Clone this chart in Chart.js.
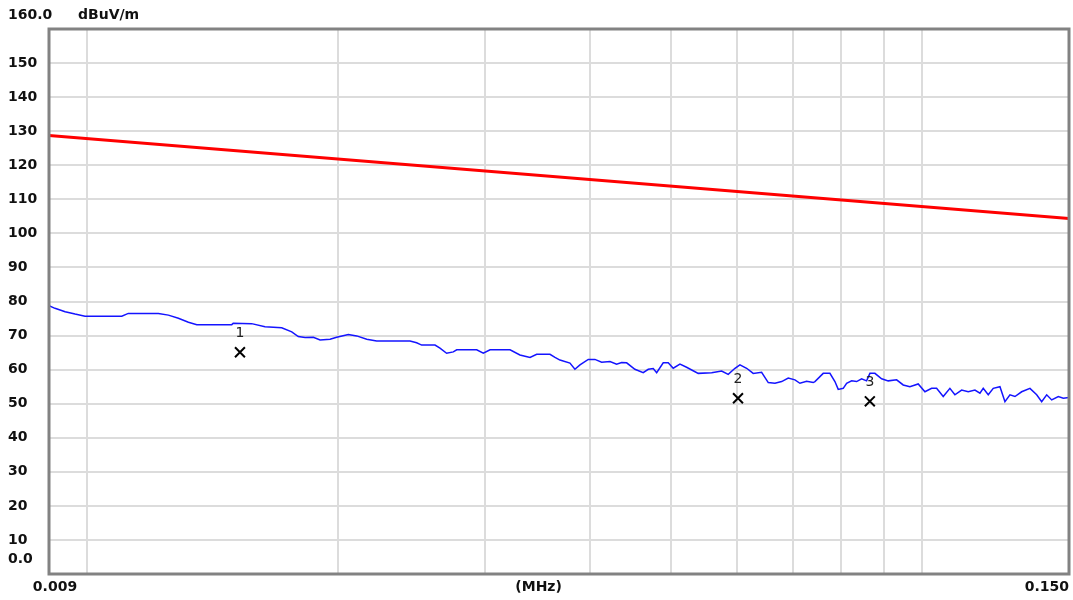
<!DOCTYPE html>
<html lang="en">
<head>
  <meta charset="UTF-8">
  <title>Radiated emission 9 kHz - 150 kHz</title>
  <script src="https://cdn.jsdelivr.net/npm/chart.js"></script>
  <style>
    body {
      margin: 0;
      background-color: #ffffff;
    }
    canvas {
      display: block;
    }
  </style>
</head>
<body>
  <canvas id="emiChart" width="1073" height="600"></canvas>

  <script>
    const traceFreq = [
      0.00900, 0.00915, 0.00941, 0.00967, 0.00994, 0.01100, 0.01120, 0.01217, 0.01251, 0.01286,
      0.01322, 0.01353, 0.01490, 0.01496, 0.01574, 0.01633, 0.01710, 0.01758, 0.01790, 0.01824,
      0.01866, 0.01901, 0.01954, 0.01990, 0.02055, 0.02103, 0.02162, 0.02222, 0.02436, 0.02481,
      0.02516, 0.02610, 0.02646, 0.02695, 0.02745, 0.02771, 0.02928, 0.02982, 0.03038, 0.03210,
      0.03299, 0.03392, 0.03455, 0.03584, 0.03634, 0.03684, 0.03787, 0.03839, 0.03893, 0.03983,
      0.04057, 0.04133, 0.04229, 0.04307, 0.04367, 0.04428, 0.04530, 0.04635, 0.04700, 0.04765,
      0.04810, 0.04898, 0.04966, 0.05035, 0.05129, 0.05224, 0.05394, 0.05598, 0.05754, 0.05860,
      0.05970, 0.06052, 0.06165, 0.06278, 0.06425, 0.06544, 0.06666, 0.06790, 0.06915, 0.07044,
      0.07141, 0.07275, 0.07408, 0.07443, 0.07615, 0.07757, 0.07865, 0.07937, 0.08047, 0.08123,
      0.08236, 0.08350, 0.08466, 0.08583, 0.08662, 0.08782, 0.08946, 0.09111, 0.09324, 0.09495,
      0.09672, 0.09896, 0.10081, 0.10269, 0.10411, 0.10603, 0.10800, 0.10950, 0.11155, 0.11360,
      0.11572, 0.11733, 0.11840, 0.12005, 0.12172, 0.12399, 0.12571, 0.12746, 0.12923, 0.13164,
      0.13469, 0.13721, 0.13911, 0.14105, 0.14301, 0.14564, 0.14766, 0.15000
    ];
    const traceLevel = [
      78.8, 78.0, 77.0, 76.3, 75.7, 75.7, 76.5, 76.5, 76.0, 75.1,
      73.9, 73.2, 73.2, 73.6, 73.5, 72.6, 72.3, 71.1, 69.7, 69.4,
      69.5, 68.7, 68.9, 69.5, 70.3, 69.9, 68.9, 68.4, 68.4, 67.9,
      67.2, 67.2, 66.3, 64.8, 65.2, 65.8, 65.8, 64.8, 65.8, 65.8,
      64.3, 63.6, 64.5, 64.5, 63.6, 62.8, 61.9, 60.1, 61.4, 63.0,
      63.0, 62.2, 62.4, 61.6, 62.1, 62.0, 60.1, 59.1, 60.1, 60.3,
      59.1, 62.0, 62.0, 60.4, 61.6, 60.7, 58.9, 59.1, 59.6, 58.6,
      60.4, 61.4, 60.4, 58.9, 59.2, 56.2, 56.0, 56.5, 57.5, 57.0,
      56.0, 56.6, 56.2, 56.5, 58.9, 58.9, 56.5, 54.2, 54.5, 56.0,
      56.7, 56.5, 57.3, 56.7, 58.9, 58.9, 57.3, 56.7, 57.0, 55.5,
      55.0, 55.8, 53.5, 54.5, 54.5, 52.1, 54.5, 52.6, 54.0, 53.5,
      54.0, 53.1, 54.5, 52.6, 54.5, 55.0, 50.6, 52.6, 52.1, 53.5,
      54.5, 52.6, 50.6, 52.6, 51.1, 52.1, 51.6, 51.8
    ];

    // limit line
    const limitFreq = [0.009, 0.150];
    const limitLevel = [128.7, 104.4];

    // markers
    const markerLabel = ['1', '2', '3'];
    const markerFreq = [0.01524, 0.0602, 0.0866];
    const markerLevel = [65.1, 51.6, 50.7];

    // axes
    const xGridFreq = [0.01, 0.02, 0.03, 0.04, 0.05, 0.06, 0.07, 0.08, 0.09, 0.1];
    const xMin = 0.009, xMax = 0.150;
    const yMin = 0, yMax = 160;
    const yTopLabel = '160.0';
    const yBottomLabel = '0.0';
    const yUnit = 'dBuV/m';
    const xFirstLabel = '0.009';
    const xLastLabel = '0.150';
    const xUnit = '(MHz)';

    const gridColor = '#dcdcdc';
    const labelFont = 'bold 14px "DejaVu Sans"';

    const overlay = {
      id: 'overlay',
      afterDatasetsDraw(chart) {
        const { ctx, chartArea: a, scales: { x, y } } = chart;
        ctx.save();

        // frame
        ctx.strokeStyle = '#828282';
        ctx.lineWidth = 3;
        ctx.strokeRect(a.left, a.top, a.right - a.left, a.bottom - a.top);

        // marker numbers
        ctx.fillStyle = '#222';
        ctx.font = '14px "DejaVu Sans"';
        ctx.textAlign = 'center';
        ctx.textBaseline = 'middle';
        chart.getDatasetMeta(2).data.forEach((pt, i) => {
          ctx.fillText(markerLabel[i], pt.x, pt.y - 19);
        });

        // axis end labels
        ctx.fillStyle = '#111';
        ctx.font = labelFont;
        ctx.textAlign = 'left';
        const topY = y.getPixelForValue(yMax) - 14;
        ctx.fillText(yTopLabel, 8, topY);
        ctx.fillText(yUnit, 78, topY);
        ctx.fillText(yBottomLabel, 8, y.getPixelForValue(yMin) - 15);

        const xy = a.bottom + 13;
        ctx.textAlign = 'center';
        ctx.fillText(xFirstLabel, x.getPixelForValue(xMin) + 6, xy);
        ctx.fillText(xUnit, a.left + (a.right - a.left) * 0.48, xy);
        ctx.textAlign = 'right';
        ctx.fillText(xLastLabel, x.getPixelForValue(xMax), xy);

        ctx.restore();
      }
    };

    const toPoints = (xs, ys) => xs.map((v, i) => ({ x: v, y: ys[i] }));

    new Chart(document.getElementById('emiChart'), {
      type: 'line',
      data: {
        datasets: [
          {
            data: toPoints(traceFreq, traceLevel),
            borderColor: '#1414ff',
            borderWidth: 1.5,
            pointRadius: 0,
            tension: 0
          },
          {
            data: toPoints(limitFreq, limitLevel),
            borderColor: '#ff0000',
            borderWidth: 3,
            pointRadius: 0
          },
          {
            data: toPoints(markerFreq, markerLevel),
            showLine: false,
            pointStyle: 'crossRot',
            pointRadius: 7,
            borderColor: '#000000',
            borderWidth: 2
          }
        ]
      },
      options: {
        responsive: false,
        animation: false,
        layout: { autoPadding: false, padding: { left: 8, right: 4, top: 29, bottom: 26 } },
        plugins: {
          legend: { display: false },
          tooltip: { enabled: false }
        },
        scales: {
          x: {
            type: 'logarithmic',
            min: xMin,
            max: xMax,
            afterBuildTicks: s => { s.ticks = xGridFreq.map(v => ({ value: v })); },
            afterFit: s => { s.height = 0; },
            ticks: { display: false },
            grid: { color: gridColor, lineWidth: 2, drawTicks: false },
            border: { display: false }
          },
          y: {
            min: yMin,
            max: yMax,
            afterFit: s => { s.width = 41; },
            ticks: {
              stepSize: 10,
              padding: 0,
              crossAlign: 'far',
              color: '#111',
              font: { family: 'DejaVu Sans', size: 14, weight: 'bold' },
              callback: v => (v === yMin || v === yMax) ? '' : v
            },
            grid: {
              color: c => (c.tick && (c.tick.value === yMin || c.tick.value === yMax)) ? 'rgba(0,0,0,0)' : gridColor,
              lineWidth: 2,
              drawTicks: false
            },
            border: { display: false }
          }
        }
      },
      plugins: [overlay]
    });
  </script>
</body>
</html>
